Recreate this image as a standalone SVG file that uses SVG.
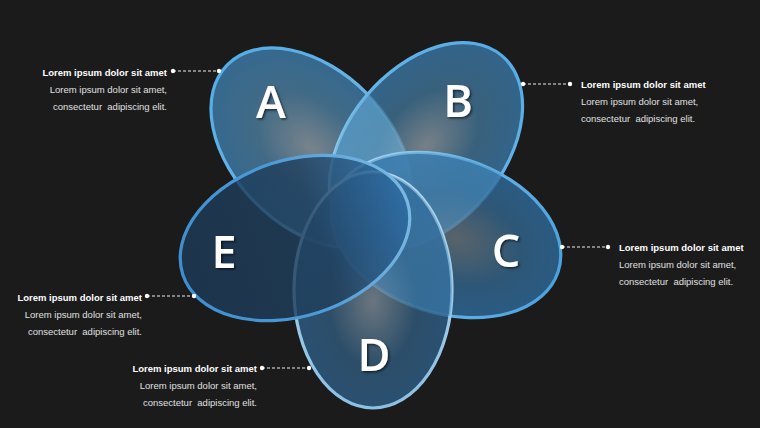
<svg xmlns="http://www.w3.org/2000/svg" width="760" height="428" viewBox="0 0 760 428">
<defs>
<style>
.title{font-family:"Liberation Sans",Arial,sans-serif;font-size:9.5px;font-weight:bold;fill:#ffffff}
.body{font-family:"Liberation Sans",Arial,sans-serif;font-size:9.5px;fill:#e0e0e0;white-space:pre}
.end{text-anchor:end}
.letter{font-family:"Open Sans","Liberation Sans",sans-serif;font-size:45px;font-weight:600;fill:#ffffff;text-anchor:middle;filter:url(#sh)}
.petal{stroke-width:3.2;fill-opacity:0.82}
.conn{stroke:#eeeeee;stroke-width:1.2;stroke-dasharray:3 2;fill:none}
.dot{fill:#ffffff}
</style>
<filter id="sh" x="-30%" y="-30%" width="160%" height="160%"><feDropShadow dx="1.5" dy="1.5" stdDeviation="1" flood-color="#000000" flood-opacity="0.6"/></filter>
<radialGradient id="gA" cx="0.5" cy="0.5" r="0.5"><stop offset="0" stop-color="#8d9ba5"/><stop offset="0.55" stop-color="#4a7c9d"/><stop offset="1" stop-color="#3b7aa8"/></radialGradient>
<radialGradient id="gB" cx="0.5" cy="0.5" r="0.5"><stop offset="0" stop-color="#8a97a0"/><stop offset="0.55" stop-color="#3f7091"/><stop offset="1" stop-color="#3874a2"/></radialGradient>
<radialGradient id="gC" cx="0.5" cy="0.55" r="0.5"><stop offset="0" stop-color="#66737d"/><stop offset="0.55" stop-color="#32648a"/><stop offset="1" stop-color="#2d6a9d"/></radialGradient>
<radialGradient id="gD" cx="0.5" cy="0.55" r="0.5"><stop offset="0" stop-color="#7c8a95"/><stop offset="0.55" stop-color="#30597a"/><stop offset="1" stop-color="#2d5d86"/></radialGradient>
<linearGradient id="gE" x1="0" y1="0" x2="0" y2="1"><stop offset="0" stop-color="#2d6ca4"/><stop offset="0.4" stop-color="#20405e"/><stop offset="1" stop-color="#1c3a56"/></linearGradient>
<linearGradient id="rimBot" x1="0" y1="0" x2="0" y2="1"><stop offset="0" stop-color="#56ade6"/><stop offset="0.5" stop-color="#66b4e6"/><stop offset="1" stop-color="#b0d8f0"/></linearGradient>
<linearGradient id="rimTop" x1="0" y1="0" x2="0" y2="1"><stop offset="0" stop-color="#b0d8f0"/><stop offset="0.5" stop-color="#66b4e6"/><stop offset="1" stop-color="#4ca2df"/></linearGradient>
<linearGradient id="rimE" x1="0" y1="0" x2="0" y2="1"><stop offset="0" stop-color="#7ab8e2"/><stop offset="0.5" stop-color="#4d9ad6"/><stop offset="1" stop-color="#3f8fd0"/></linearGradient>
<linearGradient id="rimD" x1="0" y1="0" x2="0" y2="1"><stop offset="0" stop-color="#b4d8ef"/><stop offset="1" stop-color="#8cc0e4"/></linearGradient>
<clipPath id="clipA"><ellipse cx="311" cy="148" rx="78" ry="118" transform="rotate(-45 311 148)"/></clipPath>
<clipPath id="clipB"><ellipse cx="426" cy="146" rx="78" ry="118" transform="rotate(40 426 146)"/></clipPath>
<clipPath id="clipC"><ellipse cx="446" cy="235" rx="78" ry="118" transform="rotate(-72 446 235)"/></clipPath>
</defs>
<rect x="0" y="0" width="760" height="428" fill="#1b1b1b"/>

<g id="nodeA">
<ellipse class="petal" cx="311" cy="148" rx="78" ry="118" transform="rotate(-45 311 148)" fill="url(#gA)" stroke="url(#rimBot)"/>
<text class="title end" x="167" y="76">Lorem ipsum dolor sit amet</text>
<text class="body end" x="167" y="93">Lorem ipsum dolor sit amet,</text>
<text class="body end" x="167" y="110">consectetur  adipiscing elit.</text>
</g>

<g id="nodeB">
<ellipse class="petal" cx="426" cy="146" rx="78" ry="118" transform="rotate(40 426 146)" fill="url(#gB)" stroke="url(#rimBot)"/>
<g clip-path="url(#clipA)"><ellipse cx="426" cy="146" rx="78" ry="118" transform="rotate(40 426 146)" fill="#6cb0d8" fill-opacity="0.5"/></g>
<text class="title" x="581" y="88">Lorem ipsum dolor sit amet</text>
<text class="body" x="581" y="105">Lorem ipsum dolor sit amet,</text>
<text class="body" x="581" y="122">consectetur  adipiscing elit.</text>
</g>

<g id="nodeC">
<ellipse class="petal" cx="446" cy="235" rx="78" ry="118" transform="rotate(-72 446 235)" fill="url(#gC)" stroke="url(#rimTop)"/>
<g clip-path="url(#clipB)"><ellipse cx="446" cy="235" rx="78" ry="118" transform="rotate(-72 446 235)" fill="#4c90c0" fill-opacity="0.45"/></g>
<text class="title" x="619" y="251">Lorem ipsum dolor sit amet</text>
<text class="body" x="619" y="268">Lorem ipsum dolor sit amet,</text>
<text class="body" x="619" y="285">consectetur  adipiscing elit.</text>
</g>

<g id="nodeD">
<ellipse class="petal" cx="373" cy="290" rx="79" ry="118" fill="url(#gD)" stroke="url(#rimD)"/>
<g clip-path="url(#clipC)"><ellipse cx="373" cy="290" rx="79" ry="118" fill="#3d82b5" fill-opacity="0.45"/></g>
<text class="title end" x="257" y="372">Lorem ipsum dolor sit amet</text>
<text class="body end" x="257" y="389">Lorem ipsum dolor sit amet,</text>
<text class="body end" x="257" y="406">consectetur  adipiscing elit.</text>
</g>

<g id="nodeE">
<ellipse class="petal" cx="295" cy="238" rx="78" ry="118" transform="rotate(72 295 238)" fill="url(#gE)" fill-opacity="0.76" stroke="url(#rimE)"/>
<text class="title end" x="142" y="301">Lorem ipsum dolor sit amet</text>
<text class="body end" x="142" y="318">Lorem ipsum dolor sit amet,</text>
<text class="body end" x="142" y="335">consectetur  adipiscing elit.</text>
</g>

<g id="letters">
<text class="letter" x="271" y="118">A</text>
<text class="letter" x="458" y="117">B</text>
<text class="letter" x="506" y="267">C</text>
<text class="letter" x="374" y="371">D</text>
<text class="letter" x="224" y="268">E</text>
</g>

<g id="connectors">
<line class="conn" x1="173" y1="71" x2="219" y2="71"/>
<circle class="dot" cx="173" cy="71" r="2.2"/><circle class="dot" cx="219" cy="71" r="2.2"/>
<line class="conn" x1="523" y1="84" x2="570" y2="84"/>
<circle class="dot" cx="523" cy="84" r="2.2"/><circle class="dot" cx="570" cy="84" r="2.2"/>
<line class="conn" x1="562" y1="247" x2="608" y2="247"/>
<circle class="dot" cx="562" cy="247" r="2.2"/><circle class="dot" cx="608" cy="247" r="2.2"/>
<line class="conn" x1="147" y1="296" x2="194" y2="296"/>
<circle class="dot" cx="147" cy="296" r="2.2"/><circle class="dot" cx="194" cy="296" r="2.2"/>
<line class="conn" x1="262" y1="368" x2="309" y2="368"/>
<circle class="dot" cx="262" cy="368" r="2.2"/><circle class="dot" cx="309" cy="368" r="2.2"/>
</g>
</svg>
